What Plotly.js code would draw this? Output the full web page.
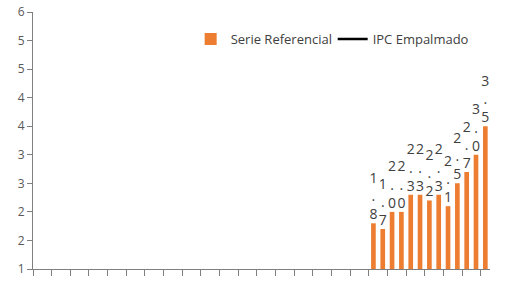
<!DOCTYPE html>
<html>
<head>
<meta charset="utf-8">
<script src="https://cdn.plot.ly/plotly-3.0.1.min.js"></script>
<style>html,body{margin:0;padding:0;background:#fff;}#chart{width:506px;height:284px;}</style>
</head>
<body>
<div id="chart"></div>
<script>
const categories = ["1","2","3","4","5","6","7","8","9","10","11","12","13","14","15","16","17","18","19","20","21","22","23","24","25","26","27","28","29","30","31","32","33","34","35","36","37","38","39","40","41","42","43","44","45","46","47","48","49"];
const serieReferencial = [null,null,null,null,null,null,null,null,null,null,null,null,null,null,null,null,null,null,null,null,null,null,null,null,null,null,null,null,null,null,null,null,null,null,null,null,1.8,1.7,2.0,2.0,2.3,2.3,2.2,2.3,2.1,2.5,2.7,3.0,3.5];
const ipcEmpalmado = [null,null,null,null,null,null,null,null,null,null,null,null,null,null,null,null,null,null,null,null,null,null,null,null,null,null,null,null,null,null,null,null,null,null,null,null,null,null,null,null,null,null,null,null,null,null,null,null,null];

const labels = serieReferencial.map(v => v == null ? "" : v.toFixed(1).split("").join("<br>"));

const traces = [
  {
    type: "bar", name: "Serie Referencial", x: categories, y: serieReferencial,
    marker: {color: "#ED7D31"},
    text: labels, textposition: "outside", textangle: 0, constraintext: "none",
    cliponaxis: false,
    textfont: {family: "Open Sans, sans-serif", size: 14, color: "#404040"},
    hoverinfo: "skip"
  },
  {
    type: "scatter", mode: "lines", name: "IPC Empalmado", x: categories, y: ipcEmpalmado,
    line: {color: "#000000", width: 2.5}, connectgaps: false
  }
];

const layout = {
  width: 506, height: 284,
  margin: {l: 33, r: 16, t: 12, b: 15, pad: 0},
  paper_bgcolor: "#fff", plot_bgcolor: "#fff",
  font: {family: "Open Sans, sans-serif", size: 12, color: "#595959"},
  bargap: 0.5,
  showlegend: true,
  legend: {orientation: "h", x: 0.345, y: 0.895, xanchor: "left", yanchor: "middle",
           entrywidth: 97, entrywidthmode: "pixels",
           font: {size: 13, color: "#404040"}, bgcolor: "rgba(0,0,0,0)", traceorder: "normal"},
  xaxis: {
    type: "category", showticklabels: false, showgrid: false, zeroline: false,
    showline: true, linecolor: "#7f7f7f", linewidth: 1,
    ticks: "outside", ticklen: 6, tickcolor: "#7f7f7f", tickson: "boundaries"
  },
  yaxis: {
    range: [1, 5.5], tick0: 1, dtick: 0.5, tickformat: ".0f",
    showgrid: false, zeroline: false, showline: true, linecolor: "#7f7f7f", linewidth: 1,
    ticks: "outside", ticklen: 5, tickcolor: "#7f7f7f",
    tickfont: {size: 12, color: "#595959"}
  }
};

Plotly.newPlot("chart", traces, layout, {displayModeBar: false, staticPlot: true});
</script>
</body>
</html>
